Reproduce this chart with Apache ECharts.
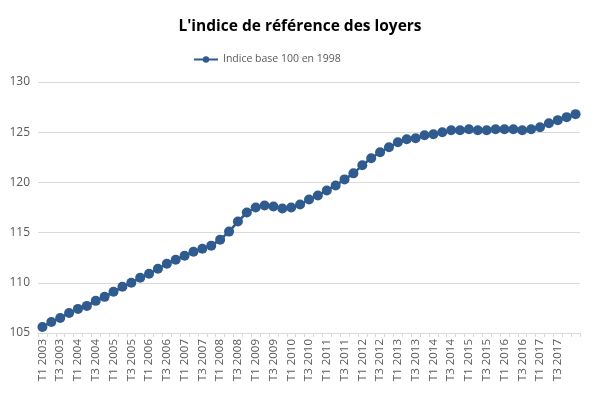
<!DOCTYPE html>
<html>
<head>
<meta charset="utf-8">
<script src="https://cdn.jsdelivr.net/npm/echarts@6/dist/echarts.min.js"></script>
<style>
  html, body { margin: 0; padding: 0; background: #fff; }
  #chart { width: 600px; height: 395px; }
</style>
</head>
<body>
<div id="chart"></div>
<script>
// trimestres (libelles de l'axe)
var quarters = [];
for (var y = 2003; y <= 2017; y++) {
  quarters.push('T1 ' + y, 'T2 ' + y, 'T3 ' + y, 'T4 ' + y);
}
quarters.push('T1 2018');

// valeurs
var irlValues = [
  105.6, 106.1, 106.5, 107.0, 107.4, 107.7, 108.2, 108.6,
  109.1, 109.6, 110.0, 110.5, 110.9, 111.4, 111.9, 112.3,
  112.7, 113.1, 113.4, 113.7, 114.3, 115.1, 116.1, 117.0,
  117.5, 117.7, 117.6, 117.4, 117.5, 117.8, 118.3, 118.7,
  119.2, 119.7, 120.3, 120.9, 121.7, 122.4, 123.0, 123.5,
  124.0, 124.3, 124.4, 124.7, 124.8, 125.0, 125.2, 125.2,
  125.3, 125.2, 125.2, 125.3, 125.3, 125.3, 125.2, 125.3,
  125.5, 125.9, 126.2, 126.5, 126.8
];

var yTicks = [105, 110, 115, 120, 125, 130];
var seriesName = 'Indice base 100 en 1998';

var chart = echarts.init(document.getElementById('chart'));
chart.setOption({
  animation: false,
  title: {
    text: "L'indice de référence des loyers",
    left: 'center',
    top: 14,
    textStyle: {
      fontFamily: 'Open Sans',
      fontWeight: 'bold',
      fontSize: 15.5,
      color: '#000'
    }
  },
  legend: {
    data: [seriesName],
    top: 49,
    left: 188,
    itemWidth: 24,
    itemHeight: 8,
    itemGap: 6,
    textStyle: { fontFamily: 'Open Sans', fontSize: 10.5, color: '#595959' }
  },
  grid: { left: 38, right: 20, top: 82, bottom: 62 },
  xAxis: {
    type: 'category',
    data: quarters,
    boundaryGap: true,
    axisLine: { lineStyle: { color: '#d9d9d9' } },
    axisTick: { show: true, interval: 0, length: 4, lineStyle: { color: '#d9d9d9' } },
    axisLabel: {
      rotate: 90,
      margin: 6,
      fontFamily: 'Open Sans',
      fontSize: 11.5,
      color: '#595959',
      interval: function (i) { return i % 2 === 0 && i < quarters.length - 1; }
    }
  },
  yAxis: {
    type: 'value',
    min: yTicks[0],
    max: yTicks[yTicks.length - 1],
    interval: 5,
    axisLine: { show: false },
    axisTick: { show: false },
    axisLabel: { fontFamily: 'Open Sans', fontSize: 12, color: '#595959', margin: 8 },
    splitLine: { lineStyle: { color: '#d9d9d9' } }
  },
  series: [{
    name: seriesName,
    type: 'line',
    data: irlValues,
    symbol: 'circle',
    symbolSize: 10,
    showAllSymbol: true,
    itemStyle: { color: '#2f5b8f' },
    lineStyle: { color: '#2f5b8f', width: 2.5 }
  }]
});
</script>
</body>
</html>
